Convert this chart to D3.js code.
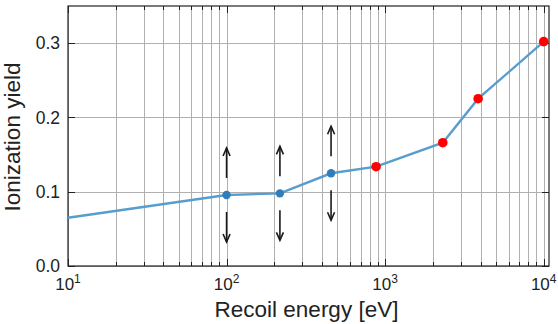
<!DOCTYPE html>
<html>
<head>
<meta charset="utf-8">
<title>Ionization yield</title>
<style>
  body { margin: 0; background: #fff; }
  text { font-family: "Liberation Sans", Arial, sans-serif; fill: #222; }
</style>
</head>
<body>
<svg width="558" height="324"></svg>
<script src="https://d3js.org/d3.v7.min.js"></script>
<script>
// curve through all points
var curveE = [10, 100, 217, 456, 877, 2310, 3860, 10000];
var curveY = [0.065, 0.0956, 0.0978, 0.1248, 0.1337, 0.166, 0.2252, 0.302];
// measured points with up/down arrows (blue)
var blueE = [100, 217, 456];
var blueY = [0.0956, 0.0978, 0.1248];
// measured points (red)
var redE = [877, 2310, 3860, 10000];
var redY = [0.1337, 0.166, 0.2252, 0.302];
var xTicks = [10, 100, 1000, 10000];
var yTicks = [0.0, 0.1, 0.2, 0.3];

var m = {left: 68, right: 9, top: 6, bottom: 58};
var W = 558, H = 324;
var svg = d3.select('svg');

var x = d3.scaleLog().domain([10, 10800]).range([m.left, W - m.right]);
var y = d3.scaleLinear().domain([0, 0.35]).range([H - m.bottom, m.top]);

// minor decade ticks
var minor = [];
for (var d = 10; d <= 10000; d *= 10) {
    for (var k = 2; k <= 9; k++) if (d * k <= 10800) minor.push(d * k);
}

var grid = svg.append('g').attr('stroke', '#b0b0b0').attr('stroke-width', 1);
grid.selectAll('.vx').data(minor.concat(xTicks)).enter().append('line')
    .attr('x1', function (d) { return Math.round(x(d)) + 0.5; })
    .attr('x2', function (d) { return Math.round(x(d)) + 0.5; })
    .attr('y1', y(0.35)).attr('y2', y(0));
grid.selectAll('.hy').data(yTicks).enter().append('line')
    .attr('y1', function (d) { return Math.round(y(d)) + 0.5; })
    .attr('y2', function (d) { return Math.round(y(d)) + 0.5; })
    .attr('x1', x(10)).attr('x2', x(10800));

// ticks pointing inward
var ticks = svg.append('g').attr('stroke', '#222').attr('stroke-width', 1);
yTicks.forEach(function (t) {
    var yy = Math.round(y(t)) + 0.5;
    ticks.append('line').attr('x1', x(10)).attr('x2', x(10) + 7).attr('y1', yy).attr('y2', yy);
    ticks.append('line').attr('x1', x(10800)).attr('x2', x(10800) - 7).attr('y1', yy).attr('y2', yy);
});
xTicks.concat(minor).forEach(function (t) {
    var xx = Math.round(x(t)) + 0.5;
    var len = xTicks.indexOf(t) >= 0 ? 7 : 4;
    ticks.append('line').attr('x1', xx).attr('x2', xx).attr('y1', y(0)).attr('y2', y(0) - len);
    ticks.append('line').attr('x1', xx).attr('x2', xx).attr('y1', y(0.35)).attr('y2', y(0.35) + len);
});

// frame
svg.append('rect')
    .attr('x', x(10)).attr('y', y(0.35))
    .attr('width', x(10800) - x(10)).attr('height', y(0) - y(0.35))
    .attr('fill', 'none').attr('stroke', '#222').attr('stroke-width', 1.2);

// tick labels
svg.append('g').selectAll('text').data(yTicks).enter().append('text')
    .attr('x', 60).attr('y', function (d) { return y(d); })
    .attr('dy', '0.36em')
    .attr('text-anchor', 'end')
    .attr('font-size', 17.5)
    .text(function (d) { return d.toFixed(1); });

var xl = svg.append('g').selectAll('text').data(xTicks).enter().append('text')
    .attr('x', function (d) { return x(d); })
    .attr('y', 290)
    .attr('text-anchor', 'middle')
    .attr('font-size', 17);
xl.append('tspan').text('10');
xl.append('tspan').attr('dy', -7).attr('font-size', 12)
    .text(function (d) { return Math.round(Math.log10(d)); });

// axis titles
svg.append('text')
    .attr('x', 306.5).attr('y', 316.5)
    .attr('text-anchor', 'middle').attr('font-size', 22.5)
    .text('Recoil energy [eV]');
svg.append('text')
    .attr('transform', 'translate(20,' + ((y(0) + y(0.35)) / 2 + 1) + ') rotate(-90)')
    .attr('text-anchor', 'middle').attr('font-size', 22.5)
    .text('Ionization yield');

// curve
var line = d3.line()
    .x(function (d, i) { return x(curveE[i]); })
    .y(function (d) { return y(d); });
svg.append('path')
    .datum(curveY)
    .attr('d', line)
    .attr('fill', 'none')
    .attr('stroke', '#579dce')
    .attr('stroke-width', 2.4);

// arrows
var arrows = svg.append('g').attr('stroke', '#1a1a1a').attr('stroke-width', 1.6).attr('fill', 'none');
blueE.forEach(function (e, i) {
    var px = x(e), py = y(blueY[i]);
    [-1, 1].forEach(function (s) {
        var tail = py + s * 17, tip = py + s * 47;
        arrows.append('line').attr('x1', px).attr('x2', px).attr('y1', tail).attr('y2', tip);
        arrows.append('path').attr('d', 'M' + (px - 3.5) + ',' + (tip - s * 8) + 'L' + px + ',' + tip + 'L' + (px + 3.5) + ',' + (tip - s * 8));
    });
});

// markers
svg.append('g').selectAll('circle').data(blueY).enter().append('circle')
    .attr('cx', function (d, i) { return x(blueE[i]); })
    .attr('cy', function (d) { return y(d); })
    .attr('r', 4.2)
    .attr('fill', '#2f7dba');
svg.append('g').selectAll('circle').data(redY).enter().append('circle')
    .attr('cx', function (d, i) { return x(redE[i]); })
    .attr('cy', function (d) { return y(d); })
    .attr('r', 4.8)
    .attr('fill', '#ff0000');
</script>
</body>
</html>
